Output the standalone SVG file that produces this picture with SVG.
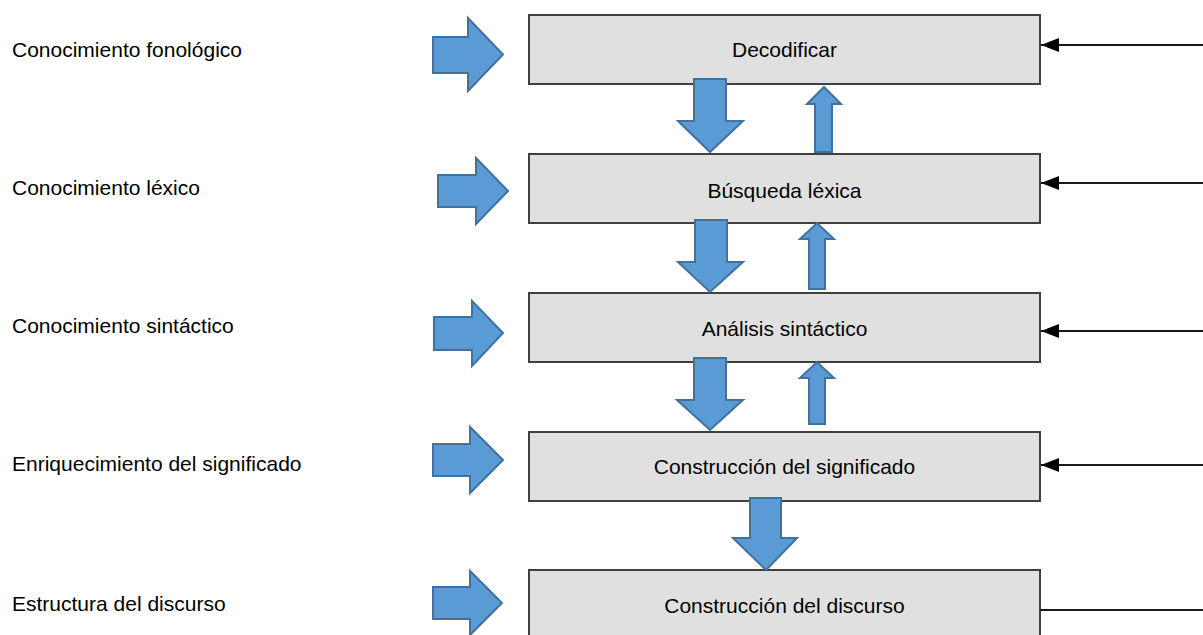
<svg xmlns="http://www.w3.org/2000/svg" width="1203" height="635" viewBox="0 0 1203 635">
<defs>
<style>
.lbl{font-family:"Liberation Sans",Arial,sans-serif;font-size:21px;fill:#000}
.box rect{fill:#e0e0e0;stroke:#404040;stroke-width:2}
.box text{font-family:"Liberation Sans",Arial,sans-serif;font-size:21px;fill:#000;text-anchor:middle}
.blk{fill:#5b9bd5;stroke:#41719c;stroke-width:2;stroke-linejoin:miter}
.con{stroke:#1a1a1a;stroke-width:2;fill:none}
</style>
<marker id="ah" viewBox="0 0 18 14" refX="18" refY="7" markerWidth="18" markerHeight="14" markerUnits="userSpaceOnUse" orient="auto">
<path d="M0,0 L18,7 L0,14 Z" fill="#000"/>
</marker>
</defs>
<rect width="1203" height="635" fill="#fff"/>

<g id="labels">
<text class="lbl" x="12" y="57">Conocimiento fonológico</text>
<text class="lbl" x="12" y="195">Conocimiento léxico</text>
<text class="lbl" x="12" y="333">Conocimiento sintáctico</text>
<text class="lbl" x="12" y="471">Enriquecimiento del significado</text>
<text class="lbl" x="12" y="611">Estructura del discurso</text>
</g>

<g id="node-decodificar" class="box"><rect x="529" y="15" width="511" height="69"/><text x="784.5" y="57">Decodificar</text></g>
<g id="node-busqueda" class="box"><rect x="529" y="154" width="511" height="69"/><text x="784.5" y="198">Búsqueda léxica</text></g>
<g id="node-analisis" class="box"><rect x="529" y="293" width="511" height="69"/><text x="784.5" y="336">Análisis sintáctico</text></g>
<g id="node-construccion-significado" class="box"><rect x="529" y="432" width="511" height="69"/><text x="784.5" y="474">Construcción del significado</text></g>
<g id="node-construccion-discurso" class="box"><rect x="529" y="570" width="511" height="80"/><text x="784.5" y="613">Construcción del discurso</text></g>

<g id="connectors">
<polygon class="blk" points="433,37 468,37 468,18 503,54.5 468,91 468,73 433,73"/>
<polygon class="blk" points="438,175 476,175 476,158 508,191 476,224 476,207 438,207"/>
<polygon class="blk" points="434,317 472,317 472,301 503,333 472,366 472,350 434,350"/>
<polygon class="blk" points="433,444 470,444 470,427 503,460 470,493 470,476 433,476"/>
<polygon class="blk" points="433,587 470,587 470,571 502,603 470,635 470,619 433,619"/>

<polygon class="blk" points="694,79 726,79 726,121 743,121 710,152 678,121 694,121"/>
<polygon class="blk" points="695,220 727,220 727,262 743,262 710,292 678,262 695,262"/>
<polygon class="blk" points="694,358 726,358 726,400 743,400 710,430 677,400 694,400"/>
<polygon class="blk" points="750,498 781,498 781,538 797,538 766,570 733,538 750,538"/>

<polygon class="blk" points="815,152 832,152 832,104 841,104 824,87 807,104 815,104"/>
<polygon class="blk" points="809,289 825,289 825,239 834,239 817,223 800,239 809,239"/>
<polygon class="blk" points="809,424 825,424 825,378 834,378 817,362 800,378 809,378"/>

<line class="con" x1="1203" y1="45" x2="1041" y2="45" marker-end="url(#ah)"/>
<line class="con" x1="1203" y1="183" x2="1041" y2="183" marker-end="url(#ah)"/>
<line class="con" x1="1203" y1="331" x2="1041" y2="331" marker-end="url(#ah)"/>
<line class="con" x1="1203" y1="465" x2="1041" y2="465" marker-end="url(#ah)"/>
<line class="con" x1="1203" y1="610" x2="1040" y2="610"/>
</g>
</svg>
